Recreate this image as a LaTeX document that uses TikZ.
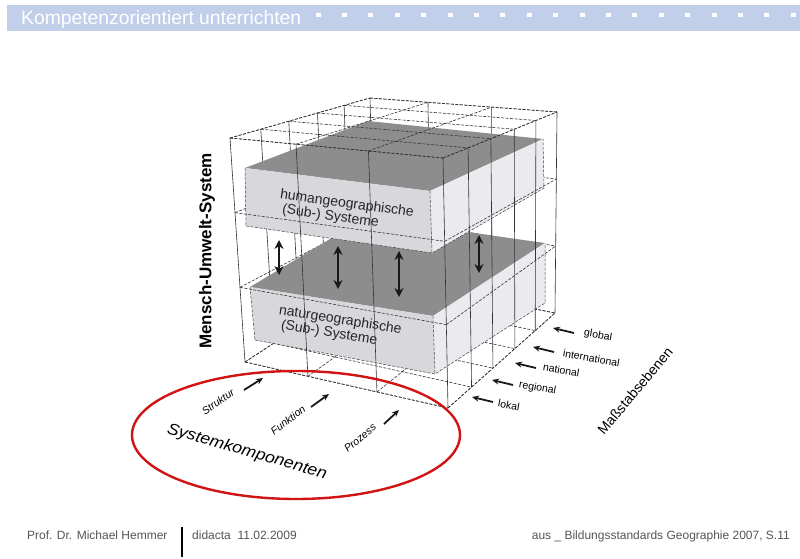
\documentclass[tikz,border=0pt]{standalone}
\usepackage{fontspec}
\setmainfont{Liberation Sans}
\usetikzlibrary{arrows.meta}
\definecolor{hdrblue}{HTML}{C1CFEA}
\definecolor{slabtopc}{HTML}{8D8D8D}
\definecolor{slabfront}{HTML}{D8D8DC}
\definecolor{slabside}{HTML}{EBEBEF}
\definecolor{ellred}{HTML}{D01414}
\definecolor{footgray}{HTML}{555555}
% cube corners (pixel coordinates)
\def\cAx{245}\def\cAy{362}
\def\cBx{448}\def\cBy{408}
\def\cCx{555}\def\cCy{313}
\def\cDx{375}\def\cDy{277}
\def\cEx{230}\def\cEy{138}
\def\cFx{443}\def\cFy{158}
\def\cGx{557}\def\cGy{112}
\def\cHx{370}\def\cHy{98}
\newcommand\cubept[4]{%
  \pgfmathsetmacro\cubU{#2}%
  \pgfmathsetmacro\cubV{#3}%
  \pgfmathsetmacro\cubW{#4}%
  \pgfmathsetmacro\cubX{(1-\cubW)*((1-\cubU)*(1-\cubV)*\cAx+\cubU*(1-\cubV)*\cBx+\cubU*\cubV*\cCx+(1-\cubU)*\cubV*\cDx)+\cubW*((1-\cubU)*(1-\cubV)*\cEx+\cubU*(1-\cubV)*\cFx+\cubU*\cubV*\cGx+(1-\cubU)*\cubV*\cHx)}%
  \pgfmathsetmacro\cubY{(1-\cubW)*((1-\cubU)*(1-\cubV)*\cAy+\cubU*(1-\cubV)*\cBy+\cubU*\cubV*\cCy+(1-\cubU)*\cubV*\cDy)+\cubW*((1-\cubU)*(1-\cubV)*\cEy+\cubU*(1-\cubV)*\cFy+\cubU*\cubV*\cGy+(1-\cubU)*\cubV*\cHy)}%
  \coordinate (#1) at (\cubX,\cubY);}
\tikzset{
  gridv/.style={line width=0.6pt, black!80},
  gridh/.style={line width=0.6pt, black!80, dash pattern=on 3pt off 1.5pt},
  slabedge/.style={line width=0.5pt, black!75, dash pattern=on 3pt off 1.5pt},
  dblarrow/.style={line width=2.4pt, black!90, {Stealth[length=9pt,width=9pt]}-{Stealth[length=9pt,width=9pt]}},
  scalearrow/.style={line width=1.8pt, black!90, -{Stealth[length=7pt,width=6pt]}},
  lvl/.style={font=\fontsize{10.5}{12}\selectfont, inner sep=0pt, anchor=west, rotate=-10},
  comp/.style={font=\itshape\fontsize{10.5}{12}\selectfont, inner sep=0pt},
  slabtext/.style={font=\fontsize{14}{14}\selectfont, inner sep=0pt, anchor=north west, text=black!85},
  foot/.style={font=\fontsize{12}{13}\selectfont, text=footgray, inner sep=0pt}
}
\begin{document}
\begin{tikzpicture}[x=1pt,y=-1pt]
\useasboundingbox (0,0) rectangle (800,559);
\fill[white] (0,0) rectangle (800,559);
% header
\fill[hdrblue] (7,5) rectangle (800,31);
\node[anchor=base west, text=white, inner sep=0pt, font=\fontsize{19.3}{21}\selectfont] (title) at (21,25) {Kompetenzorientiert unterrichten};
\foreach \m in {0,...,18} \fill[white] ({318+26.4*\m-2.5},13) rectangle ++(5,4);
% lattice points
\foreach \i/\uu in {0/0,1/0.31,2/0.65,3/1}{
  \foreach \j/\vv in {0/0,1/0.22,2/0.42,3/0.625,4/0.815,5/1}{
    \foreach \k in {0,1,2,3}{
      \cubept{p\i\j\k}{\uu}{\vv}{\k/3}
    }}}
% hidden faces
\foreach \k in {0,...,3} \draw[gridh] (p00\k) -- (p05\k);
\foreach \k in {0,...,3} \draw[gridh] (p05\k) -- (p35\k);
\foreach \i in {0,...,3} \draw[gridh] (p\i00) -- (p\i50);
\foreach \j in {0,...,5} \draw[gridh] (p0\j0) -- (p3\j0);
\foreach \j in {1,...,5} \draw[gridv] (p0\j0) -- (p0\j3);
\foreach \i in {1,2} \draw[gridv] (p\i50) -- (p\i53);
% natur slab
\coordinate (L2) at (250,287); \coordinate (F2) at (433,316);
\coordinate (R2) at (545,243); \coordinate (K2) at (365,218);
\coordinate (L2b) at (255,340); \coordinate (F2b) at (435,374);
\coordinate (R2b) at (545,303);
\fill[slabtopc] (L2) -- (F2) -- (R2) -- (K2) -- cycle;
\fill[slabfront] (L2) -- (F2) -- (F2b) -- (L2b) -- cycle;
\fill[slabside] (F2) -- (R2) -- (R2b) -- (F2b) -- cycle;
\draw[slabedge] (L2b) -- (F2b) -- (R2b) -- (R2) (F2) -- (F2b) (L2) -- (L2b);
% human slab
\coordinate (L1) at (245,168); \coordinate (F1) at (430,191);
\coordinate (R1) at (543,139); \coordinate (K1) at (368,121);
\coordinate (L1b) at (246,226); \coordinate (F1b) at (432,253);
\coordinate (R1b) at (544,188);
\fill[slabtopc] (L1) -- (F1) -- (R1) -- (K1) -- cycle;
\fill[slabfront] (L1) -- (F1) -- (F1b) -- (L1b) -- cycle;
\fill[slabside] (F1) -- (R1) -- (R1b) -- (F1b) -- cycle;
\draw[slabedge] (L1b) -- (F1b) -- (R1b) -- (R1) (F1) -- (F1b) (L1) -- (L1b);
% slab labels (one node per line)
\node[slabtext, rotate=-8] (human1) at (281,188) {humangeographische};
\node[slabtext, rotate=-8] (human2) at (283,203) {(Sub-) Systeme};
\node[slabtext, rotate=-9] (natur1) at (280,304) {naturgeographische};
\node[slabtext, rotate=-9] (natur2) at (282,319) {(Sub-) Systeme};
% double arrows
\coordinate (a1t) at (279,240); \coordinate (a1b) at (279,275);
\coordinate (a2t) at (338,246); \coordinate (a2b) at (338,289);
\coordinate (a3t) at (399,251); \coordinate (a3b) at (399,297);
\coordinate (a4t) at (479,235); \coordinate (a4b) at (479,273);
\draw[dblarrow] (a1t) -- (a1b);
\draw[dblarrow] (a2t) -- (a2b);
\draw[dblarrow] (a3t) -- (a3b);
\draw[dblarrow] (a4t) -- (a4b);
% visible faces
\foreach \i in {0,...,3} \draw[gridv] (p\i00) -- (p\i03);
\foreach \k in {0,...,3} \draw[gridh] (p00\k) -- (p30\k);
\foreach \j in {1,...,5} \draw[gridv] (p3\j0) -- (p3\j3);
\foreach \k in {0,...,3} \draw[gridh] (p30\k) -- (p35\k);
\foreach \i in {0,...,3} \draw[gridh] (p\i03) -- (p\i53);
\foreach \j in {0,...,5} \draw[gridh] (p0\j3) -- (p3\j3);
% axis label
\node[rotate=90, font=\bfseries\fontsize{17}{18}\selectfont, inner sep=0pt] (mus) at (207,251) {Mensch-Umwelt-System};
% scale levels
\coordinate (s1a) at (574,333); \coordinate (s1b) at (553,328);
\coordinate (s2a) at (554,352); \coordinate (s2b) at (533,347);
\coordinate (s3a) at (536,368); \coordinate (s3b) at (515,363);
\coordinate (s4a) at (513,385); \coordinate (s4b) at (492,380);
\coordinate (s5a) at (493,402); \coordinate (s5b) at (472,397);
\draw[scalearrow] (s1a) -- (s1b);
\draw[scalearrow] (s2a) -- (s2b);
\draw[scalearrow] (s3a) -- (s3b);
\draw[scalearrow] (s4a) -- (s4b);
\draw[scalearrow] (s5a) -- (s5b);
\node[lvl] (global) at (584,333) {global};
\node[lvl] (intl) at (563,353) {international};
\node[lvl] (natl) at (543,367) {national};
\node[lvl] (regl) at (519,385) {regional};
\node[lvl] (lokal) at (498,403) {lokal};
\node[rotate=50, font=\fontsize{14}{15}\selectfont, inner sep=0pt] (mass) at (635,391) {Maßstabsebenen};
% system components
\coordinate (c1a) at (244,390); \coordinate (c1b) at (263,378);
\coordinate (c2a) at (311,407); \coordinate (c2b) at (329,394);
\coordinate (c3a) at (384,424); \coordinate (c3b) at (399,410);
\draw[scalearrow] (c1a) -- (c1b);
\draw[scalearrow] (c2a) -- (c2b);
\draw[scalearrow] (c3a) -- (c3b);
\node[comp, rotate=35] (struktur) at (218,402) {Struktur};
\node[comp, rotate=37] (funktion) at (288,420) {Funktion};
\node[comp, rotate=40] (prozess) at (360,438) {Prozess};
\node[rotate=-16, font=\itshape\fontsize{16}{17}\selectfont, inner sep=0pt, xscale=1.1] (syskomp) at (247,452) {Systemkomponenten};
\draw[ellred, line width=2.4pt] (296,435) ellipse [x radius=164, y radius=64];
% footer
\node[foot, anchor=base west] (author) at (27,539) {Prof. Dr. Michael Hemmer};
\coordinate (bartop) at (182,527); \coordinate (barbot) at (182,557);
\draw[line width=1.6pt, black] (bartop) -- (barbot);
\node[foot, anchor=base west] (event) at (192,539) {didacta\ \ 11.02.2009};
\node[foot, anchor=base east] (source) at (790,539) {aus \_ Bildungsstandards Geographie 2007, S.11};
\end{tikzpicture}
\end{document}
